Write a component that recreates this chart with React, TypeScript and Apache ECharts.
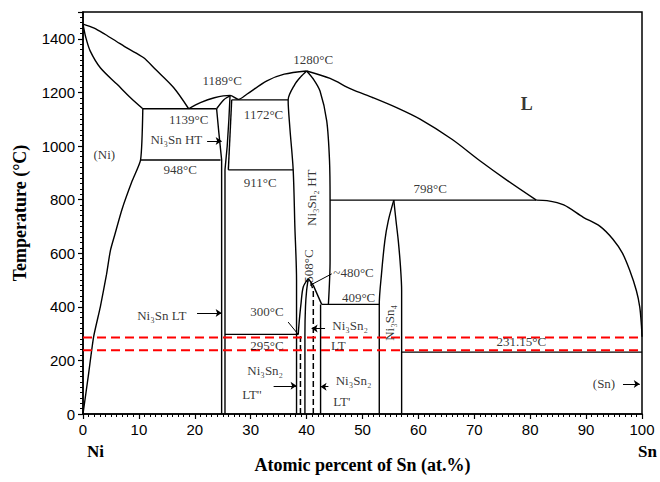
import React, { useEffect, useRef } from "react";
import * as echarts from "echarts";

// ---- phase boundaries (x = at.% Sn, y = temperature °C) ----
const liquidusNiSide = [[0, 1455], [2, 1440], [4, 1416], [6, 1390], [8, 1364], [10.8, 1330], [13, 1285], [16.2, 1218], [18.9, 1139]];
const solidusNi = [[0, 1455], [0.5, 1405], [1.3, 1354], [3.1, 1292], [6.1, 1230], [8.5, 1180], [10.7, 1139]];
const solvusNi = [[0, 0], [1, 150], [1.9, 288], [3.1, 400], [4.2, 520], [4.9, 610], [5.7, 670], [7, 765], [8.8, 870], [10.3, 948], [10.7, 1139]];
const eutectic1139 = [[10.7, 1139], [23.9, 1139]];
const line948 = [[10.3, 948], [24.6, 948]];
const ni3SnLeft = [[23.9, 1139], [24.3, 1050], [24.8, 948], [24.8, 0]];
const ni3SnTop = [[23.9, 1139], [25.2, 1173], [26.3, 1187]];
const ni3SnRight = [[26.3, 1187], [26.1, 1100], [25.8, 1000], [25.4, 911], [25.4, 0]];
const liquidusMid = [[18.9, 1139], [21, 1162], [23.5, 1180], [26.3, 1189], [27.8, 1174], [29.3, 1193], [32.9, 1243], [36, 1268], [40, 1280]];
const box1172Left = [[26.6, 1172], [26.0, 911]];
const line1172 = [[26.6, 1172], [36.7, 1172]];
const line911 = [[26.0, 911], [37.6, 911]];
const ni3Sn2HTLeft = [[40, 1280], [38.9, 1257], [37.9, 1230], [36.7, 1172], [37.0, 1069], [37.6, 911], [37.9, 700], [38.2, 500], [38.2, 0]];
const ni3Sn2HTRight = [[40, 1280], [41.2, 1250], [42.4, 1205], [43.6, 1094], [44.1, 945], [44.2, 796], [44.2, 573], [43.9, 409]];
const liquidusRight = [[40, 1280], [44.2, 1252], [48, 1212], [51.9, 1180], [56.1, 1143], [60.3, 1100], [66, 1025], [71, 945], [76, 870], [81.1, 798]];
const line798 = [[44.2, 798], [81.1, 798]];
const liquidusSn = [[81.1, 798], [83, 796], [86, 780], [89.5, 734], [92.5, 700], [94.8, 652], [96.5, 600], [97.8, 536], [99, 460], [99.6, 399], [99.9, 330], [100, 288]];
const ni3Sn4Left = [[55.6, 798], [54.6, 720], [54.0, 647], [53.4, 523], [53.0, 409], [53.0, 0]];
const ni3Sn4Right = [[55.6, 798], [56.0, 720], [56.4, 647], [56.8, 548], [57.0, 461], [57.0, 0]];
const line409 = [[42.7, 409], [53.0, 409]];
const line300 = [[25.4, 297], [38.5, 297]];
const line231 = [[57.0, 231], [100, 231]];
const domeLeft = [[38.5, 297], [38.7, 350], [39.0, 412], [39.4, 474], [40.3, 505]];
const domeRight = [[40.3, 505], [41.2, 480], [42.7, 409]];
const innerLeft = [[39.7, 0], [39.7, 300], [39.8, 400], [40.0, 460], [40.3, 505]];
const rightSolid = [[42.5, 0], [42.5, 409]];
const dashedLeft = [[38.9, 0], [38.9, 297]];
const dashedRight = [[41.2, 0], [41.2, 460], [40.6, 500]];
const redLines = [285, 238];

// ---- annotations ----
const labels = [
  { text: "L", x: 79.4, y: 1157, big: true },
  { text: "1280°C", x: 41.2, y: 1321 },
  { text: "1189°C", x: 24.9, y: 1246 },
  { text: "1139°C", x: 18.9, y: 1100 },
  { text: "1172°C", x: 32.3, y: 1119 },
  { text: "Ni₃Sn HT", x: 16.7, y: 1025 },
  { text: "(Ni)", x: 3.8, y: 970 },
  { text: "948°C", x: 17.4, y: 914 },
  { text: "911°C", x: 31.7, y: 864 },
  { text: "Ni₃Sn₂ HT", x: 40.9, y: 807, rotate: 90 },
  { text: "798°C", x: 62.1, y: 840 },
  { text: "508°C", x: 40.3, y: 552, rotate: 90 },
  { text: "~480°C", x: 48.4, y: 529 },
  { text: "409°C", x: 49.3, y: 436 },
  { text: "Ni₃Sn LT", x: 14.1, y: 368 },
  { text: "300°C", x: 32.9, y: 381 },
  { text: "295°C", x: 32.9, y: 257 },
  { text: "Ni₃Sn₂", x: 32.6, y: 164 },
  { text: "LT''", x: 30.2, y: 74 },
  { text: "Ni₃Sn₂", x: 47.8, y: 331 },
  { text: "LT", x: 45.7, y: 257 },
  { text: "Ni₃Sn₂", x: 48.4, y: 126 },
  { text: "LT'", x: 46.3, y: 46 },
  { text: "Ni₃Sn₄", x: 54.8, y: 340, rotate: 90 },
  { text: "231.15°C", x: 78.4, y: 269 },
  { text: "(Sn)", x: 93.2, y: 114 },
];
const arrows = [
  [[22.2, 1019], [24.8, 1019]],
  [[20.4, 377], [24.8, 377]],
  [[34.1, 105], [38.2, 105]],
  [[43.3, 319], [40.9, 319]],
  [[43.9, 102], [42.5, 102]],
  [[96.6, 112], [99.6, 112]],
];
const leaders = [
  [[36.7, 343], [38.5, 297]],
  [[44.5, 523], [40.6, 480]],
];

const solidLines = [
  { d: liquidusNiSide, s: 0.3 }, { d: solidusNi, s: 0.3 }, { d: solvusNi, s: 0.2 },
  { d: eutectic1139 }, { d: line948 }, { d: ni3SnLeft }, { d: ni3SnTop, s: 0.3 }, { d: ni3SnRight },
  { d: liquidusMid, s: 0.3 }, { d: box1172Left }, { d: line1172 }, { d: line911 },
  { d: ni3Sn2HTLeft, s: 0.3 }, { d: ni3Sn2HTRight, s: 0.3 }, { d: liquidusRight, s: 0.3 },
  { d: line798 }, { d: liquidusSn, s: 0.3 }, { d: ni3Sn4Left, s: 0.3 }, { d: ni3Sn4Right, s: 0.3 },
  { d: line409 }, { d: line300 }, { d: line231 }, { d: domeLeft, s: 0.3 }, { d: domeRight },
  { d: innerLeft, s: 0.3 }, { d: rightSolid },
];
const dashedLines = [dashedLeft, dashedRight];

const SERIF = "'Liberation Serif', 'Times New Roman', serif";
const SANS = "'Liberation Sans', Arial, sans-serif";

export default function App() {
  const ref = useRef<HTMLDivElement>(null);
  useEffect(() => {
    if (!ref.current) return;
    const chart = echarts.init(ref.current, null, { renderer: "svg" });
    const series: any[] = [];
    solidLines.forEach((l) => {
      series.push({
        type: "line", data: l.d, showSymbol: false, smooth: l.s || false,
        lineStyle: { color: "#000", width: 1.4 }, silent: true,
      });
    });
    dashedLines.forEach((d) => {
      series.push({
        type: "line", data: d, showSymbol: false,
        lineStyle: { color: "#000", width: 1.5, type: [6, 3] }, silent: true,
      });
    });
    series.push({
      type: "lines", coordinateSystem: "cartesian2d", symbol: ["none", "arrow"], symbolSize: 6,
      lineStyle: { color: "#000", width: 1, opacity: 1 },
      data: arrows.map((c) => ({ coords: c })), silent: true,
    });
    series.push({
      type: "lines", coordinateSystem: "cartesian2d", symbol: ["none", "none"],
      lineStyle: { color: "#000", width: 1, opacity: 1 },
      data: leaders.map((c) => ({ coords: c })), silent: true,
    });
    redLines.forEach((t) => {
      series.push({
        type: "line", data: [[0, t], [100, t]], showSymbol: false, z: 10,
        lineStyle: { color: "#ff0000", width: 2, type: [9, 5] }, silent: true,
      });
    });
    series.push({
      type: "scatter", symbolSize: 0, silent: true, z: 12,
      itemStyle: { color: "#000" },
      data: labels.map((l) => ({
        value: [l.x, l.y],
        label: {
          show: true, position: [0, 0], formatter: l.text,
          rotate: l.rotate || 0,
          fontFamily: SERIF, fontSize: l.big ? 18 : 13,
          fontWeight: l.big ? "bold" : "normal", color: "#000",
          textBorderWidth: 0,
          align: "center", verticalAlign: "middle",
        },
      })),
    });
    chart.setOption({
      animation: false,
      grid: { left: 83, right: 18, top: 12, bottom: 68, show: true, borderColor: "#000", borderWidth: 1.5, containLabel: false },
      xAxis: {
        type: "value", min: 0, max: 100, interval: 10,
        name: "Atomic percent of Sn (at.%)", nameLocation: "middle", nameGap: 42,
        nameTextStyle: { fontFamily: SERIF, fontWeight: "bold", fontSize: 18, color: "#000" },
        axisLine: { show: true, lineStyle: { color: "#000", width: 1.5 } },
        axisTick: { show: true, length: 5, lineStyle: { color: "#000", width: 1.2 } },
        minorTick: { show: true, splitNumber: 10, length: 3, lineStyle: { color: "#000", width: 1 } },
        axisLabel: { fontFamily: SANS, fontSize: 15, color: "#000", margin: 8 },
        splitLine: { show: false },
      },
      yAxis: {
        type: "value", min: 0, max: 1500, interval: 200,
        name: "Temperature (°C)", nameLocation: "middle", nameGap: 54,
        nameTextStyle: { fontFamily: SERIF, fontWeight: "bold", fontSize: 18, color: "#000" },
        axisLine: { show: true, lineStyle: { color: "#000", width: 1.5 } },
        axisTick: { show: true, length: 5, lineStyle: { color: "#000", width: 1.2 } },
        minorTick: { show: true, splitNumber: 10, length: 3, lineStyle: { color: "#000", width: 1 } },
        axisLabel: {
          fontFamily: SANS, fontSize: 15, color: "#000", margin: 8,
          formatter: (v: number) => (v > 1400 ? "" : String(v)),
        },
        splitLine: { show: false },
      },
      graphic: [
        { type: "text", left: 87, top: 443, style: { text: "Ni", font: `bold 17px ${SERIF}`, fill: "#000" } },
        { type: "text", left: 638, top: 443, style: { text: "Sn", font: `bold 17px ${SERIF}`, fill: "#000" } },
      ],
      series,
    });
    return () => chart.dispose();
  }, []);
  return <div ref={ref} style={{ position: "fixed", left: 0, top: 0, width: 660, height: 482, background: "#fff" }} />;
}
